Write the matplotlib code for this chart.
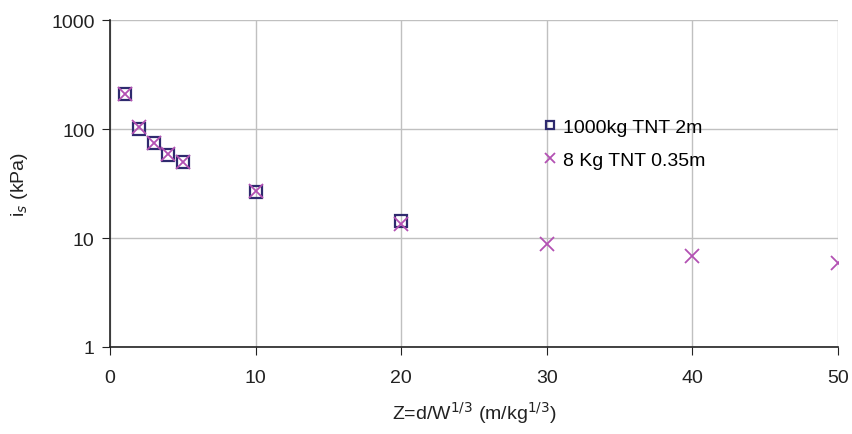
import matplotlib
matplotlib.use('Agg')
import matplotlib.pyplot as plt

plt.rcParams['font.family'] = ['Liberation Sans', 'DejaVu Sans']

# data
z_1000kg = [1, 2, 3, 4, 5, 10, 20]
i_1000kg = [208, 100, 74, 58, 49.5, 26.5, 14.2]

z_8kg = [1, 2, 3, 4, 5, 10, 20, 30, 40, 50]
i_8kg = [210, 104, 75, 59, 50, 27, 13.5, 8.8, 6.8, 5.9]

x_ticks = [0, 10, 20, 30, 40, 50]
y_ticks = [1, 10, 100, 1000]
y_labels = ['1', '10', '100', '1000']

fig = plt.figure(figsize=(8.52, 4.35), dpi=100)
ax = fig.add_axes([0.1291, 0.2, 0.8545, 0.7517])

ax.set_yscale('log')
ax.set_xlim(0, 50)
ax.set_ylim(1, 1000)

ax.grid(True, which='major', color='#c0c0c0', lw=1)
ax.grid(False, which='minor')
ax.set_axisbelow(True)

ax.plot(z_1000kg, i_1000kg, ls='none', marker='s', ms=8, mfc='none',
        mec='#2e2a6e', mew=1.6, label='1000kg TNT 2m')
ax.plot(z_8kg, i_8kg, ls='none', marker='x', ms=10, mec='#b351b3',
        mew=1.3, label='8 Kg TNT 0.35m')

ax.set_xticks(x_ticks)
ax.set_yticks(y_ticks)
ax.set_yticklabels(y_labels)
ax.minorticks_off()
ax.tick_params(axis='both', labelsize=14, direction='out', length=6,
               color='#222222', labelcolor='#222222', pad=5)
ax.tick_params(axis='x', pad=10)

for s in ['top', 'right']:
    ax.spines[s].set_visible(False)
for s in ['left', 'bottom']:
    ax.spines[s].set_color('#222222')
    ax.spines[s].set_linewidth(1.2)

ax.set_xlabel('Z=d/W$^{1/3}$ (m/kg$^{1/3}$)', fontsize=14, labelpad=9,
              color='#222222')
ax.set_ylabel('i$_s$ (kPa)', fontsize=14, labelpad=15, color='#222222')

ax.legend(loc='upper left', bbox_to_anchor=(527 / 852, 1 - 102 / 435),
          bbox_transform=fig.transFigure, frameon=False, fontsize=14,
          handlelength=0.6, handletextpad=0.35, labelspacing=0.8,
          markerscale=0.75)

fig.savefig('out.png', dpi=100)
